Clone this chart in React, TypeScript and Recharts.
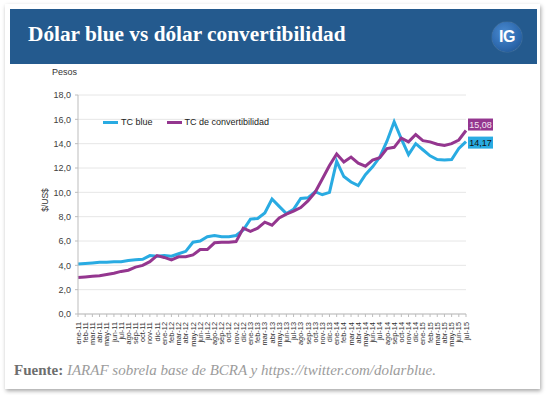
import React from 'react';
import { LineChart, Line, XAxis, YAxis, CartesianGrid, Legend, LabelList } from 'recharts';

const monthLabels: string[] = [
  'ene-11','feb-11','mar-11','abr-11','may-11','jun-11','jul-11','ago-11','sep-11','oct-11','nov-11','dic-11',
  'ene-12','feb-12','mar-12','abr-12','may-12','jun-12','jul-12','ago-12','sep-12','oct-12','nov-12','dic-12',
  'ene-13','feb-13','mar-13','abr-13','may-13','jun-13','jul-13','ago-13','sep-13','oct-13','nov-13','dic-13',
  'ene-14','feb-14','mar-14','abr-14','may-14','jun-14','jul-14','ago-14','sep-14','oct-14','nov-14','dic-14',
  'ene-15','feb-15','mar-15','abr-15','may-15','jun-15','jul-15',
];

const tcBlue: number[] = [
  4.10, 4.15, 4.20, 4.25, 4.25, 4.30, 4.30, 4.40, 4.45, 4.50, 4.80, 4.75,
  4.80, 4.75, 4.95, 5.15, 5.90, 6.00, 6.35, 6.45, 6.35, 6.35, 6.45, 6.90,
  7.80, 7.85, 8.30, 9.45, 8.85, 8.25, 8.60, 9.50, 9.55, 10.05, 9.80, 10.00,
  12.55, 11.30, 10.85, 10.55, 11.45, 12.10, 12.90, 14.20, 15.80, 14.40, 13.10, 14.00,
  13.50, 13.00, 12.70, 12.65, 12.70, 13.60, 14.17,
];

const tcConvertibilidad: number[] = [
  3.00, 3.05, 3.10, 3.15, 3.25, 3.35, 3.50, 3.60, 3.85, 4.00, 4.30, 4.80,
  4.65, 4.45, 4.70, 4.70, 4.85, 5.30, 5.30, 5.85, 5.90, 5.90, 5.95, 7.05,
  6.80, 7.05, 7.55, 7.30, 7.90, 8.20, 8.45, 8.75, 9.30, 10.00, 11.10, 12.20,
  13.15, 12.50, 12.90, 12.40, 12.15, 12.65, 12.85, 13.60, 13.70, 14.45, 14.15, 14.75,
  14.25, 14.15, 13.95, 13.85, 14.00, 14.30, 15.08,
];

const yTicks: number[] = [0, 2, 4, 6, 8, 10, 12, 14, 16, 18];

const data = monthLabels.map((m, i) => ({ i, mes: m, blue: tcBlue[i], conv: tcConvertibilidad[i] }));
const xTicks = monthLabels.map((_, i) => i);
const lastIndex = monthLabels.length - 1;

const BLUE = '#29abe2';
const PURPLE = '#94368f';
const fmt = (v: number) => v.toFixed(2).replace('.', ',');

const XTick = (props: any) => {
  const { x, y, payload } = props;
  return (
    <text
      x={x}
      y={y + 3}
      transform={`rotate(-90 ${x} ${y + 3})`}
      textAnchor="end"
      dy="0.35em"
      fontSize={7.4}
      fill="#333"
      fontFamily="'Liberation Sans', Arial, sans-serif"
    >
      {monthLabels[payload.value]}
    </text>
  );
};

const makeEndLabel = (fill: string, textColor: string, dyBox: number) => (props: any) => {
  const { x, y, index, value } = props;
  if (index !== lastIndex) return null;
  const bx = x + 2;
  const by = y + dyBox;
  return (
    <g>
      <rect x={bx} y={by} width={25} height={12} fill={fill} />
      <text
        x={bx + 12.5}
        y={by + 6}
        dy="0.35em"
        textAnchor="middle"
        fontSize={9}
        fill={textColor}
        fontFamily="'Liberation Sans', Arial, sans-serif"
      >
        {fmt(value)}
      </text>
    </g>
  );
};

const LegendContent = (props: any) => {
  const { payload } = props;
  return (
    <div style={{ display: 'flex', alignItems: 'center', fontFamily: "'Liberation Sans', Arial, sans-serif", fontSize: 9, color: '#222' }}>
      {payload.map((p: any, k: number) => (
        <div key={k} style={{ display: 'flex', alignItems: 'center', marginRight: 14 }}>
          <div style={{ width: 15, height: 3, background: p.color, marginRight: 3 }} />
          <span>{p.value}</span>
        </div>
      ))}
    </div>
  );
};

export default function App() {
  return (
    <div style={{ position: 'absolute', left: 0, top: 0, width: 550, height: 395, background: '#fff', overflow: 'hidden' }}>
      <div
        style={{
          position: 'absolute', left: 5, top: 4, width: 535, height: 385, background: '#fff',
          boxShadow: '1px 2px 4px rgba(0,0,0,0.35)',
        }}
      />
      <div style={{ position: 'absolute', left: 10, top: 9, width: 527, height: 55, background: '#245a8e' }} />
      <div
        style={{
          position: 'absolute', left: 28, top: 21, color: '#fff', fontFamily: "'Liberation Serif', 'Times New Roman', serif",
          fontWeight: 'bold', fontSize: 21.3, whiteSpace: 'nowrap', lineHeight: '26px',
        }}
      >
        Dólar blue vs dólar convertibilidad
      </div>
      <div
        style={{
          position: 'absolute', left: 492, top: 22, width: 30, height: 30, borderRadius: '50%',
          background: 'radial-gradient(circle at 40% 35%, #4a8ad0 0%, #2c68ad 60%, #1f4f86 100%)',
          boxShadow: '0 0 1px rgba(255,255,255,0.6)',
          color: '#fff', fontFamily: "'Liberation Sans', Arial, sans-serif", fontWeight: 'bold', fontSize: 16,
          display: 'flex', alignItems: 'center', justifyContent: 'center', letterSpacing: -0.5,
        }}
      >
        IG
      </div>
      <div style={{ position: 'absolute', left: 52, top: 67, fontFamily: "'Liberation Sans', Arial, sans-serif", fontSize: 9, color: '#333' }}>
        Pesos
      </div>
      <div
        style={{
          position: 'absolute', left: 45, top: 200, transform: 'translate(-50%, -50%) rotate(-90deg)',
          fontFamily: "'Liberation Sans', Arial, sans-serif", fontSize: 8.5, color: '#333', whiteSpace: 'nowrap',
        }}
      >
        $/US$
      </div>
      <div style={{ position: 'absolute', left: 0, top: 0 }}>
        <LineChart width={550} height={395} data={data} margin={{ top: 85, right: 84, left: 38, bottom: 46 }}>
          <CartesianGrid horizontal vertical={false} stroke="#e6e6e6" strokeWidth={1} />
          <XAxis
            dataKey="i"
            type="number"
            domain={[0, lastIndex]}
            ticks={xTicks}
            interval={0}
            height={35}
            tick={<XTick />}
            tickLine={{ stroke: '#bdbdbd' }}
            tickSize={3}
            axisLine={{ stroke: '#bdbdbd' }}
          />
          <YAxis
            width={40}
            domain={[0, 18]}
            ticks={yTicks}
            tickFormatter={(v: number) => v.toFixed(1).replace('.', ',')}
            tick={{ fontSize: 9, fill: '#404040', fontFamily: "'Liberation Sans', Arial, sans-serif" }}
            tickLine={{ stroke: '#bdbdbd' }}
            tickSize={3}
            tickMargin={4}
            axisLine={{ stroke: '#bdbdbd' }}
          />
          <Legend
            verticalAlign="top"
            align="left"
            content={<LegendContent />}
            wrapperStyle={{ position: 'absolute', left: 103, top: 117, width: 'auto' }}
          />
          <Line
            type="linear"
            dataKey="blue"
            name="TC blue"
            stroke={BLUE}
            strokeWidth={3}
            dot={false}
            isAnimationActive={false}
          >
            <LabelList dataKey="blue" content={makeEndLabel(BLUE, '#111', -5)} />
          </Line>
          <Line
            type="linear"
            dataKey="conv"
            name="TC de convertibilidad"
            stroke={PURPLE}
            strokeWidth={3}
            dot={false}
            isAnimationActive={false}
          >
            <LabelList dataKey="conv" content={makeEndLabel(PURPLE, '#f4e6f3', -12)} />
          </Line>
        </LineChart>
      </div>
      <div
        style={{
          position: 'absolute', left: 14, top: 362, fontFamily: "'Liberation Serif', 'Times New Roman', serif",
          fontSize: 15, whiteSpace: 'nowrap', color: '#9c9c9c',
        }}
      >
        <span style={{ fontWeight: 'bold', color: '#6e6e6e' }}>Fuente:</span>{' '}
        <span style={{ fontStyle: 'italic' }}>IARAF sobrela base de BCRA y https://twitter.com/dolarblue.</span>
      </div>
    </div>
  );
}
